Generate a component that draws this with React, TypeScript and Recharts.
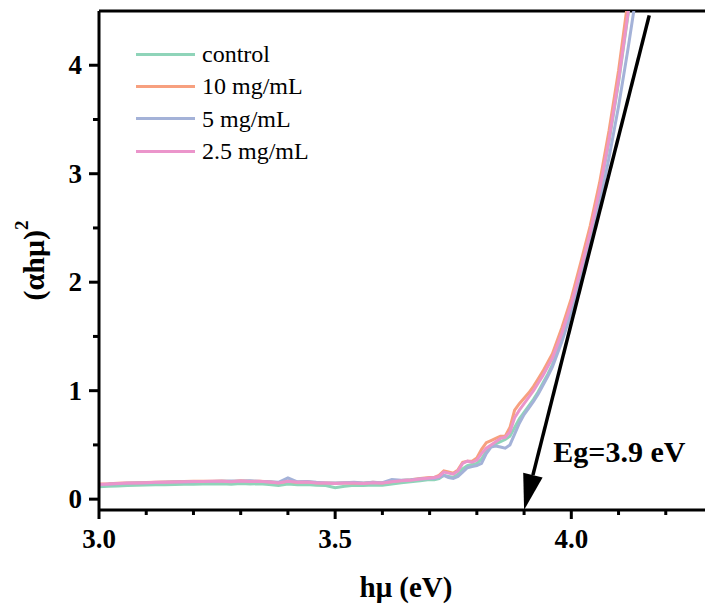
import { Legend, Line, LineChart, ReferenceDot, ReferenceLine, XAxis, YAxis } from "recharts";

const serif = '"Liberation Serif", "Times New Roman", serif';

// photon energy (eV)
const energy = [
  3.0, 3.02, 3.04, 3.06, 3.08, 3.1, 3.12, 3.14, 3.16, 3.18, 3.2, 3.22, 3.24, 3.26, 3.28, 3.3, 3.32, 3.34,
  3.36, 3.38, 3.4, 3.42, 3.44, 3.46, 3.48, 3.5, 3.52, 3.54, 3.56, 3.58, 3.6, 3.62, 3.64, 3.66, 3.68, 3.7,
  3.71, 3.72, 3.73, 3.74, 3.75, 3.76, 3.77, 3.78, 3.79, 3.8, 3.81, 3.82, 3.83, 3.84, 3.85, 3.86, 3.87,
  3.88, 3.89, 3.9, 3.91, 3.92, 3.93, 3.94, 3.95,
  3.96, 3.98, 4.0, 4.02, 4.04, 4.06, 4.08, 4.1, 4.12, 4.14, 4.16,
];

const control = [
  0.115, 0.12, 0.122, 0.125, 0.128, 0.13, 0.132, 0.133, 0.135, 0.137, 0.138, 0.14, 0.14, 0.142, 0.137, 0.145, 0.14, 0.142,
  0.135, 0.125, 0.14, 0.132, 0.135, 0.128, 0.125, 0.105, 0.118, 0.128, 0.125, 0.13, 0.128, 0.14, 0.15, 0.16, 0.17, 0.18,
  0.18, 0.19, 0.22, 0.21, 0.2, 0.23, 0.28, 0.31, 0.32, 0.33, 0.37, 0.44, 0.49, 0.51, 0.53, 0.55, 0.58,
  0.66, 0.74, 0.8, 0.86, 0.92, 0.99, 1.07, 1.15,
  1.24, 1.47, 1.75, 2.08, 2.43, 2.83, 3.3, 3.84, 4.46, 5.1, 5.8,
];

const mg10 = [
  0.14, 0.142, 0.146, 0.15, 0.152, 0.154, 0.156, 0.158, 0.16, 0.162, 0.164, 0.165, 0.166, 0.167, 0.163, 0.169, 0.164, 0.166,
  0.16, 0.152, 0.166, 0.156, 0.16, 0.152, 0.15, 0.147, 0.15, 0.152, 0.147, 0.155, 0.15, 0.162, 0.172, 0.178, 0.19, 0.2,
  0.2, 0.22, 0.26, 0.25, 0.24, 0.27, 0.34, 0.35, 0.35, 0.38, 0.46, 0.52, 0.54, 0.56, 0.58, 0.58, 0.66,
  0.82, 0.88, 0.93, 0.98, 1.04, 1.11, 1.18, 1.26,
  1.34, 1.58, 1.85, 2.18, 2.52, 2.92, 3.4, 3.95, 4.6, 5.3, 6.0,
];

const mg5 = [
  0.13, 0.138, 0.142, 0.146, 0.148, 0.15, 0.153, 0.155, 0.157, 0.158, 0.16, 0.162, 0.163, 0.165, 0.168, 0.165, 0.17, 0.163,
  0.16, 0.155, 0.195, 0.16, 0.162, 0.155, 0.15, 0.148, 0.152, 0.155, 0.148, 0.155, 0.152, 0.18, 0.175, 0.178, 0.185, 0.19,
  0.19, 0.2, 0.22, 0.2, 0.19, 0.21, 0.25, 0.29, 0.3, 0.31, 0.33, 0.42, 0.48, 0.49, 0.48, 0.47, 0.5,
  0.6, 0.7, 0.78, 0.84, 0.9, 0.97, 1.05, 1.13,
  1.22, 1.45, 1.72, 2.02, 2.35, 2.72, 3.15, 3.62, 4.15, 4.72, 5.3,
];

const mg25 = [
  0.135, 0.14, 0.145, 0.148, 0.15, 0.152, 0.155, 0.156, 0.158, 0.16, 0.162, 0.163, 0.165, 0.166, 0.16, 0.168, 0.162, 0.165,
  0.158, 0.15, 0.165, 0.155, 0.158, 0.15, 0.148, 0.145, 0.148, 0.15, 0.145, 0.152, 0.148, 0.16, 0.17, 0.175, 0.185, 0.195,
  0.2, 0.21, 0.25, 0.24, 0.23, 0.26, 0.33, 0.35, 0.34, 0.36, 0.42, 0.47, 0.5, 0.53, 0.56, 0.57, 0.62,
  0.75, 0.82, 0.88, 0.94, 1.0, 1.07, 1.14, 1.22,
  1.3, 1.53, 1.8, 2.12, 2.46, 2.85, 3.32, 3.86, 4.48, 5.15, 5.85,
];

const seriesKeys = ["control", "mg10", "mg5", "mg25"];
const seriesNames = ["control", "10 mg/mL", "5 mg/mL", "2.5 mg/mL"];
const seriesColors = ["#8fd4b9", "#f7a07f", "#a4b2d8", "#eb95cb"];

const xTicks = [3.0, 3.1, 3.2, 3.3, 3.4, 3.5, 3.6, 3.7, 3.8, 3.9, 4.0, 4.1, 4.2];
const xMajor = ["3.0", "3.5", "4.0"];
const yTicks = [0, 0.5, 1, 1.5, 2, 2.5, 3, 3.5, 4];
const yMajor = ["0", "1", "2", "3", "4"];

// tangent line extrapolated to the band gap
const tangent = [
  { x: 4.165, y: 4.46 },
  { x: 3.9, y: -0.1 },
];
const gapLabel = "Eg=3.9 eV";

const data = energy.map((x, i) => ({
  x,
  control: control[i],
  mg10: mg10[i],
  mg5: mg5[i],
  mg25: mg25[i],
}));

function XTick(props: any) {
  const { x, y, payload } = props;
  const label = payload.value.toFixed(1);
  const major = xMajor.includes(label);
  return (
    <g>
      <line x1={x} y1={y} x2={x} y2={y + (major ? 9 : 5)} stroke="#000" strokeWidth={3} />
      {major && (
        <text x={x} y={y + 38} textAnchor="middle" fontFamily={serif} fontWeight="bold" fontSize={27} fill="#000">
          {label}
        </text>
      )}
    </g>
  );
}

function YTick(props: any) {
  const { x, y, payload } = props;
  const label = String(payload.value);
  const major = yMajor.includes(label);
  return (
    <g>
      <line x1={x - (major ? 10 : 6)} y1={y} x2={x} y2={y} stroke="#000" strokeWidth={3} />
      {major && (
        <text x={x - 17} y={y + 9} textAnchor="end" fontFamily={serif} fontWeight="bold" fontSize={27} fill="#000">
          {label}
        </text>
      )}
    </g>
  );
}

function XTitle(props: any) {
  const vb = props.viewBox;
  return (
    <text x={vb.x + vb.width / 2} y={597} textAnchor="middle" fontFamily={serif} fontWeight="bold" fontSize={29} fill="#000">
      hμ (eV)
    </text>
  );
}

function YTitle(props: any) {
  const vb = props.viewBox;
  const cy = vb.y + vb.height / 2;
  return (
    <text
      x={33}
      y={cy}
      transform={`rotate(-90 33 ${cy})`}
      textAnchor="middle"
      dominantBaseline="central"
      fontFamily={serif}
      fontWeight="bold"
      fontSize={30}
      fill="#000"
    >
      (αhμ)
      <tspan dy={-12} fontSize={19}>2</tspan>
    </text>
  );
}

function Arrow(props: any) {
  const { x1, y1, x2, y2 } = props;
  const dx = x2 - x1;
  const dy = y2 - y1;
  const len = Math.sqrt(dx * dx + dy * dy);
  const ux = dx / len;
  const uy = dy / len;
  const head = 36;
  const half = 10;
  const bx = x2 - ux * head;
  const by = y2 - uy * head;
  return (
    <g>
      <line x1={x1} y1={y1} x2={bx} y2={by} stroke="#000" strokeWidth={3.5} />
      <polygon
        points={`${x2},${y2} ${bx - uy * half},${by + ux * half} ${bx + uy * half},${by - ux * half}`}
        fill="#000"
      />
    </g>
  );
}

function GapText(props: any) {
  return (
    <text x={props.cx} y={props.cy} fontFamily={serif} fontWeight="bold" fontSize={30} fill="#000">
      {gapLabel}
    </text>
  );
}

function LegendBox() {
  return (
    <div style={{ fontFamily: serif, fontSize: 24, color: "#000" }}>
      {seriesNames.map((name, i) => (
        <div key={name} style={{ display: "flex", alignItems: "center", height: 32.3 }}>
          <div style={{ width: 59, height: 3, background: seriesColors[i], marginRight: 7 }} />
          <span style={{ lineHeight: 1 }}>{name}</span>
        </div>
      ))}
    </div>
  );
}

export default function App() {
  return (
    <div style={{ position: "absolute", left: 0, top: 0, width: 705, height: 612, overflow: "hidden", background: "#fff" }}>
      <LineChart width={713} height={612} data={data} margin={{ top: 11, right: 0, bottom: 0, left: 0 }}>
        <XAxis
          type="number"
          dataKey="x"
          domain={[3, 4.3]}
          allowDataOverflow
          ticks={xTicks}
          interval={0}
          height={102}
          tickSize={0}
          tickMargin={0}
          tickLine={false}
          tick={<XTick />}
          axisLine={{ stroke: "#000", strokeWidth: 3 }}
          label={<XTitle />}
        />
        <YAxis
          type="number"
          domain={[-0.1, 4.5]}
          allowDataOverflow
          ticks={yTicks}
          interval={0}
          width={99}
          tickSize={0}
          tickMargin={0}
          tickLine={false}
          tick={<YTick />}
          axisLine={{ stroke: "#000", strokeWidth: 3 }}
          label={<YTitle />}
        />
        <ReferenceLine y={4.5} stroke="#000" strokeWidth={3} />
        {seriesKeys.map((key, i) => (
          <Line
            key={key}
            type="linear"
            dataKey={key}
            name={seriesNames[i]}
            stroke={seriesColors[i]}
            strokeWidth={3}
            dot={false}
            isAnimationActive={false}
          />
        ))}
        <ReferenceLine segment={tangent} shape={<Arrow />} />
        <ReferenceDot x={3.962} y={0.34} r={0} shape={<GapText />} />
        <Legend
          layout="vertical"
          align="center"
          verticalAlign="middle"
          content={<LegendBox />}
          wrapperStyle={{ left: 136, top: 38, width: 240 }}
        />
      </LineChart>
    </div>
  );
}
